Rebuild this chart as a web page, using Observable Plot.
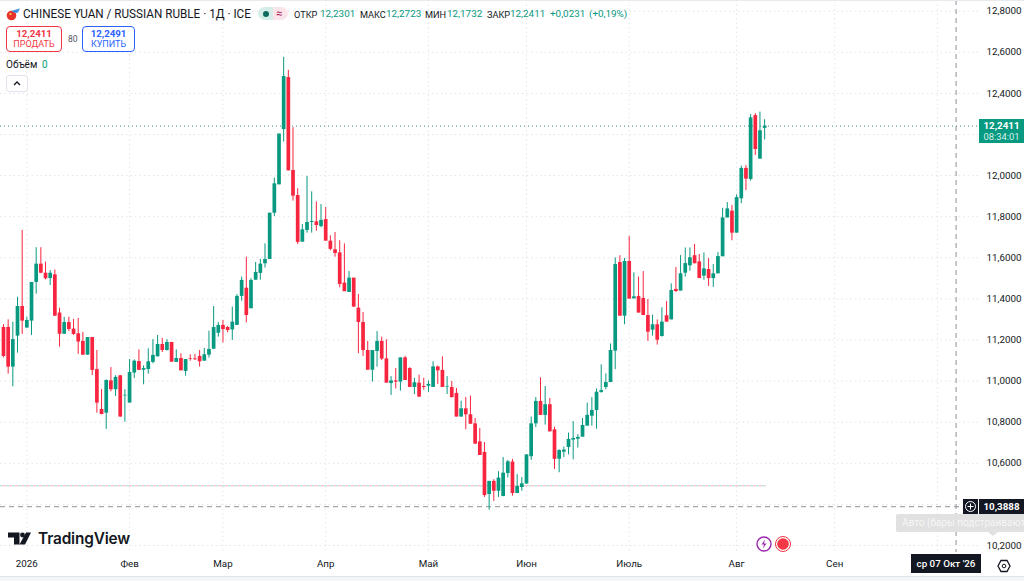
<!DOCTYPE html>
<html><head><meta charset="utf-8">
<script src="https://cdn.jsdelivr.net/npm/d3@7"></script>
<script src="https://cdn.jsdelivr.net/npm/@observablehq/plot@0.6"></script>
<style>
html,body{margin:0;padding:0;background:#fff;overflow:hidden}
#wrap{position:relative;width:1024px;height:581px;font-family:Roboto,sans-serif;color:#131722;overflow:hidden}
#wrap svg{display:block}
.o{position:absolute;white-space:nowrap;line-height:1}
</style></head><body><div id="wrap"></div>
<script>
const open=[11.261,11.261,11.068,11.219,11.363,11.258,11.292,11.480,11.569,11.525,
11.499,11.517,11.331,11.228,11.285,11.253,11.230,11.193,11.126,11.212,
11.056,10.862,10.844,11.001,10.958,11.026,10.928,10.893,11.039,11.095,
11.053,11.056,11.091,11.118,11.178,11.149,11.188,11.091,11.110,11.047,
11.110,11.108,11.120,11.097,11.126,11.155,11.233,11.271,11.261,11.249,
11.271,11.412,11.452,11.352,11.491,11.524,11.571,11.592,11.817,11.955,
12.224,12.477,12.025,11.903,11.676,11.733,11.772,11.775,11.752,11.786,
11.681,11.639,11.624,11.477,11.431,11.501,11.355,11.285,11.149,11.053,
11.144,11.193,11.108,10.988,11.001,10.995,11.113,11.061,10.969,10.990,
10.974,10.975,10.969,11.069,11.052,10.971,10.969,10.940,10.825,10.865,
10.836,10.792,10.704,10.653,10.448,10.512,10.464,10.438,10.550,10.606,
10.453,10.482,10.499,10.632,10.792,10.901,10.833,10.885,10.763,10.620,
10.654,10.677,10.713,10.717,10.727,10.781,10.829,10.857,10.945,10.969,
10.993,11.146,11.577,11.316,11.582,11.400,11.412,11.402,11.319,11.248,
11.274,11.217,11.318,11.298,11.446,11.438,11.525,11.561,11.610,11.580,
11.511,11.543,11.499,11.522,11.605,11.794,11.827,11.720,11.887,12.035,
11.981,12.292,12.080,12.2301];
const high=[11.275,11.298,11.287,11.408,11.733,11.310,11.480,11.649,11.649,11.579,
11.538,11.541,11.355,11.310,11.311,11.300,11.305,11.237,11.212,11.212,
11.149,10.959,11.006,11.066,11.026,11.026,10.958,11.105,11.103,11.152,
11.074,11.157,11.202,11.222,11.207,11.201,11.188,11.152,11.133,11.105,
11.128,11.130,11.149,11.159,11.243,11.363,11.285,11.295,11.266,11.360,
11.421,11.506,11.603,11.498,11.577,11.593,11.668,11.817,11.988,12.202,
12.576,12.512,12.233,11.936,11.762,11.996,11.921,11.872,11.859,11.845,
11.707,11.723,11.683,11.668,11.533,11.501,11.421,11.334,11.193,11.149,
11.241,11.214,11.201,11.022,11.061,11.113,11.120,11.065,11.014,11.029,
11.014,11.001,11.094,11.073,11.118,11.022,10.998,10.964,10.902,10.920,
10.927,10.818,10.769,10.701,10.512,10.520,10.559,10.628,10.614,10.619,
10.546,10.531,10.641,10.825,10.920,11.016,10.974,10.915,10.776,10.666,
10.679,10.747,10.803,10.740,10.818,10.893,10.920,10.962,11.079,11.035,
11.181,11.600,11.610,11.597,11.704,11.527,11.506,11.533,11.397,11.321,
11.298,11.357,11.387,11.473,11.553,11.611,11.648,11.648,11.665,11.616,
11.624,11.597,11.567,11.626,11.841,11.869,11.855,11.906,12.046,12.049,
12.297,12.302,12.309,12.2723];
const low=[11.113,11.034,10.972,11.136,11.227,11.258,11.222,11.423,11.522,11.493,
11.465,11.316,11.165,11.228,11.241,11.222,11.130,11.125,11.126,11.027,
10.844,10.837,10.765,10.948,10.925,10.825,10.800,10.893,11.013,11.052,
10.982,11.034,11.084,11.118,11.139,11.146,11.092,11.091,11.050,11.024,
11.097,11.100,11.068,11.097,11.112,11.155,11.214,11.186,11.235,11.198,
11.271,11.389,11.284,11.352,11.491,11.491,11.550,11.592,11.801,11.955,
12.163,12.023,11.876,11.665,11.676,11.720,11.720,11.730,11.746,11.681,
11.634,11.603,11.454,11.435,11.431,11.360,11.133,11.120,11.053,10.995,
11.068,11.100,10.990,10.930,10.962,10.951,11.003,10.969,10.935,10.922,
10.956,10.945,10.969,10.984,10.969,10.935,10.917,10.825,10.825,10.763,
10.790,10.693,10.638,10.434,10.372,10.414,10.434,10.438,10.529,10.440,
10.453,10.464,10.499,10.614,10.774,10.833,10.786,10.753,10.570,10.554,
10.628,10.641,10.617,10.674,10.727,10.781,10.781,10.766,10.941,10.958,
10.993,11.056,11.316,11.274,11.399,11.400,11.331,11.319,11.193,11.219,
11.175,11.214,11.287,11.298,11.431,11.438,11.506,11.535,11.571,11.499,
11.491,11.460,11.456,11.522,11.605,11.794,11.683,11.720,11.863,11.927,
11.973,12.098,12.080,12.1732];
const close=[11.120,11.068,11.202,11.363,11.292,11.295,11.480,11.569,11.525,11.498,
11.525,11.316,11.228,11.285,11.251,11.227,11.190,11.126,11.212,11.052,
10.893,10.837,11.003,10.958,11.018,10.825,10.931,11.042,11.097,11.052,
11.061,11.094,11.125,11.178,11.149,11.188,11.092,11.110,11.050,11.105,
11.107,11.104,11.094,11.128,11.154,11.261,11.271,11.251,11.246,11.287,
11.412,11.490,11.319,11.490,11.529,11.569,11.592,11.817,11.960,12.202,
12.482,12.023,11.900,11.675,11.736,11.772,11.777,11.757,11.782,11.681,
11.641,11.621,11.470,11.435,11.501,11.360,11.285,11.149,11.053,11.149,
11.193,11.107,10.990,11.001,10.995,11.113,11.003,10.969,10.992,10.922,
10.969,10.984,11.069,11.050,10.969,10.974,10.920,10.825,10.865,10.836,
10.790,10.693,10.638,10.443,10.512,10.464,10.528,10.552,10.607,10.453,
10.487,10.500,10.641,10.792,10.901,10.833,10.885,10.753,10.619,10.662,
10.664,10.716,10.721,10.726,10.784,10.833,10.857,10.946,10.954,10.993,
11.149,11.567,11.316,11.582,11.399,11.410,11.331,11.319,11.238,11.274,
11.199,11.287,11.287,11.441,11.436,11.522,11.572,11.600,11.571,11.499,
11.546,11.499,11.522,11.606,11.794,11.838,11.720,11.893,12.035,11.983,
12.281,12.127,12.218,12.2411];
const gridPrices=[12.8,12.6,12.4,12.2,12.0,11.8,11.6,11.4,11.2,11.0,10.8,10.6,10.4,10.2];
const priceTicks=[12.8,12.6,12.4,12.0,11.8,11.6,11.4,11.2,11.0,10.8,10.6,10.2];
const timeTicks=[5,27,47,69,91,112,134,157,178];
const timeLabels=["2026","Фев","Мар","Апр","Май","Июн","Июль","Авг","Сен"];
const octBar=200;
const lastPrice=12.2411, crossPrice=10.3888, crossBar=204, markPrice=10.4905;
const lastBar=open.length-1;
const UP="#089981", DOWN="#f7253f", GRID="#e4e5e9";
const fmt=d3.format(".4f");
const bars=open.map((o,i)=>({i,o,h:high[i],l:low[i],c:close[i],dir:close[i]>=o?"up":"down"}));

const chart=Plot.plot({
  width:1024,height:581,marginLeft:0,marginTop:0,marginRight:46,marginBottom:29,
  style:{fontFamily:"Roboto,sans-serif",fontSize:"9.8px",color:"#131722",background:"transparent"},
  x:{type:"linear",domain:[-0.642,208.8],axis:null},
  y:{type:"linear",domain:[10.1659,12.8521],axis:null},
  color:{domain:["up","down"],range:[UP,DOWN]},
  marks:[
    Plot.ruleY(gridPrices,{stroke:GRID,strokeWidth:1,strokeDasharray:"1.5,3"}),
    Plot.ruleX([...timeTicks,octBar],{stroke:GRID,strokeWidth:1,strokeDasharray:"1.5,3"}),
    Plot.ruleY([crossPrice],{stroke:"#8f9299",strokeWidth:1,strokeDasharray:"5,4"}),
    Plot.ruleX([crossBar],{stroke:"#8f9299",strokeWidth:1,strokeDasharray:"5,4"}),
    Plot.ruleY([markPrice],{x1:-0.642,x2:lastBar+0.4,stroke:UP,strokeOpacity:.35,strokeWidth:1,strokeDasharray:"3,3"}),
    Plot.ruleY([markPrice],{x1:-0.642,x2:lastBar+0.4,stroke:DOWN,strokeOpacity:.35,strokeWidth:1,strokeDasharray:"3,3",strokeDashoffset:3}),
    Plot.ruleY([lastPrice],{stroke:"#3a8a7c",strokeWidth:1,strokeDasharray:"1,3"}),
    Plot.ruleX(bars,{x:"i",y1:"l",y2:"h",stroke:"dir",strokeWidth:1}),
    Plot.ruleX(bars,{x:"i",y1:"o",y2:"c",stroke:"dir",strokeWidth:3.7}),
    Plot.axisY({anchor:"right",ticks:priceTicks,tickSize:0,tickPadding:8,label:null,tickFormat:d=>fmt(d).replace(".",",")}),
    Plot.axisX({anchor:"bottom",ticks:timeTicks,tickSize:0,tickPadding:8,label:null,tickFormat:d=>timeLabels[timeTicks.indexOf(d)]})
  ]
});
const wrap=document.getElementById("wrap");
wrap.appendChild(chart);

function t(x,y,s,css){const e=document.createElement("div");e.className="o";e.textContent=s;
  e.style.left=x+"px";e.style.top=y+"px";if(css)e.style.cssText+=";"+css;wrap.appendChild(e);return e;}
function box(x,y,w,h,css){return t(x,y,"","width:"+w+"px;height:"+h+"px;box-sizing:border-box;"+css);}

// frame strips
box(0,0,1024,1,"background:#e9eaee");
box(0,576,1024,1,"background:#e0e3eb");
box(0,577,1024,4,"background:#f4f5f7");

// flag
wrap.insertAdjacentHTML("beforeend",`<svg style="position:absolute;left:0;top:0" width="22" height="24">
<circle cx="11.5" cy="15.5" r="4.8" fill="#e8342c"/><circle cx="10.5" cy="14" r="1.1" fill="#f7d64a"/>
<path d="M11 11 L20 8.6 L17.5 13 L14 12.6 Z" fill="#3d8fe0"/></svg>`);

// header
t(23,7.5,"CHINESE YUAN / RUSSIAN RUBLE · 1Д · ICE","font-size:12.6px;font-weight:400;color:#131722;transform:scaleX(.93);transform-origin:left center");
box(258,7,15,13,"background:#d6eee9;border-radius:7px 0 0 7px");
box(273,7,15,13,"background:#fbe4ea;border-radius:0 7px 7px 0");
box(263,10.5,6,6,"background:#0b6b5c;border-radius:50%");
t(276,7.5,"≈","font-size:11px;color:#a3205a");
const hdr="font-size:9.9px;", lab="font-size:9.2px;";
t(294,9.5,"ОТКР",lab);t(320,9,"12,2301",hdr+"color:#089981");
t(360,9.5,"МАКС",lab);t(386,9,"12,2723",hdr+"color:#089981");
t(425,9.5,"МИН",lab);t(447,9,"12,1732",hdr+"color:#089981");
t(487,9.5,"ЗАКР",lab);t(510,9,"12,2411",hdr+"color:#089981");
t(550,9,"+0,0231",hdr+"color:#089981");t(589,9,"(+0,19%)",hdr+"color:#089981");

// buy / sell
box(6,26,56,26,"border:1px solid #f23645;border-radius:4px;background:#fff");
t(6,28.5,"12,2411","width:56px;text-align:center;font-size:9.7px;font-weight:700;color:#f23645");
t(6,40,"ПРОДАТЬ","width:56px;text-align:center;font-size:9px;color:#f23645");
t(68,34.5,"80","font-size:8.5px;color:#50535e");
box(82,26,53,26,"border:1px solid #2962ff;border-radius:4px;background:#fff");
t(82,28.5,"12,2491","width:53px;text-align:center;font-size:9.7px;font-weight:700;color:#2962ff");
t(82,40,"КУПИТЬ","width:53px;text-align:center;font-size:9px;color:#2962ff");
t(6,60,"Объём","font-size:10px");t(42,60,"0","font-size:10px;color:#089981");
box(6,75,22,17,"border:1px solid #e0e3eb;border-radius:3px;background:#fff");
wrap.insertAdjacentHTML("beforeend",`<svg style="position:absolute;left:6px;top:75px" width="22" height="17"><path d="M8 10 L11 7 L14 10" fill="none" stroke="#131722" stroke-width="1.3"/></svg>`);

// price label
box(979,119,45,24,"background:#089981");
t(979,120.5,"12,2411","width:45px;text-align:center;color:#fff;font-size:9.8px;font-weight:700");
t(979,132,"08:34:01","width:45px;text-align:center;color:#d6f0ea;font-size:9.4px");

// crosshair labels
box(963,499,15,15,"background:#131722");
wrap.insertAdjacentHTML("beforeend",`<svg style="position:absolute;left:963px;top:499px" width="15" height="15"><circle cx="7.5" cy="7.5" r="5" fill="none" stroke="#fff"/><path d="M7.5 4.5V10.5M4.5 7.5H10.5" stroke="#fff"/></svg>`);
box(979,499,45,15,"background:#131722");
t(979,501.5,"10,3888","width:45px;text-align:center;color:#fff;font-size:9.8px;font-weight:700");
box(896,514,128,18,"background:#e1e1e1;border-radius:2px 0 0 2px;overflow:hidden");
t(902,517.5,"Авто (бары подстраиваются","width:122px;overflow:hidden;color:#f6f6f6;font-size:10px");
wrap.insertAdjacentHTML("beforeend",`<svg style="position:absolute;left:988px;top:532px" width="10" height="4"><path d="M0 0H10L5 4Z" fill="#e1e1e1"/></svg>`);
box(911,554,70,19,"background:#131722");
t(911,558.5,"ср 07 Окт '26","width:70px;text-align:center;color:#fff;font-size:9.8px;font-weight:500");
wrap.insertAdjacentHTML("beforeend",`<svg style="position:absolute;left:997px;top:559px" width="14" height="14"><path d="M4 1.5H10L13 7L10 12.5H4L1 7Z" fill="none" stroke="#131722" stroke-width="1.3"/><circle cx="7" cy="7" r="1.8" fill="none" stroke="#131722"/></svg>`);

// logo
wrap.insertAdjacentHTML("beforeend",`<svg style="position:absolute;left:0;top:525px" width="36" height="25" fill="#131722"><path d="M8 7.5H19.500V19.500H14V12.500H8Z"/><circle cx="22.500" cy="10" r="2.400"/><path d="M26 7.500H31L25 19.500H19.500Z"/></svg>`);
t(38,530.5,"TradingView","font-family:Inter,Roboto,sans-serif;font-size:15.4px;font-weight:600;color:#131722;letter-spacing:-.01em");

// circles near the last bars
wrap.insertAdjacentHTML("beforeend",`<svg style="position:absolute;left:754px;top:534px" width="40" height="20">
<circle cx="10" cy="10" r="7" fill="#fff" stroke="#9c27b0" stroke-width="1.4"/><path d="M11 5.500L7.500 10.500H10L9 14.500L12.500 9.500H10Z" fill="#9c27b0"/>
<circle cx="29" cy="10" r="7.500" fill="#fff" stroke="#f23645"/><circle cx="29" cy="10" r="5.800" fill="#f23645"/></svg>`);
</script></body></html>
